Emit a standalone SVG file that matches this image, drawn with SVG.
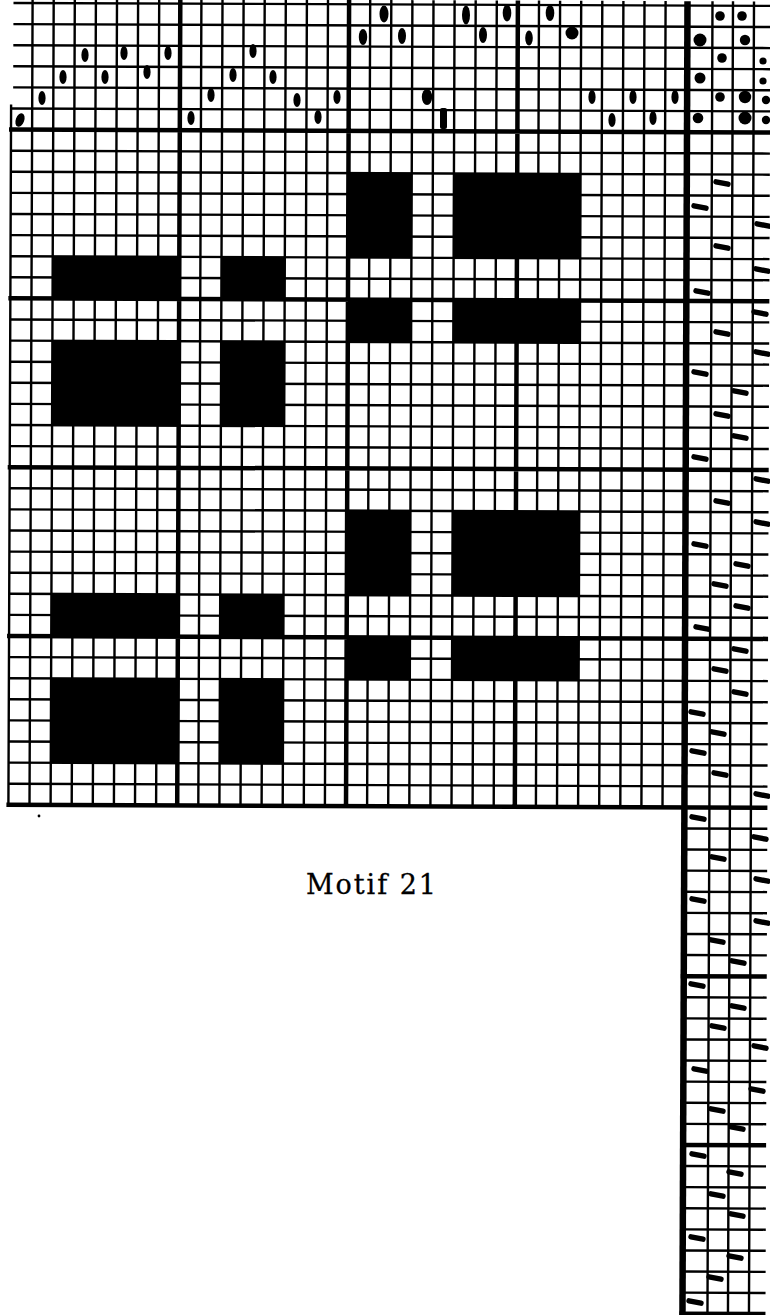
<svg xmlns="http://www.w3.org/2000/svg" xmlns:xlink="http://www.w3.org/1999/xlink" width="770" height="1315" viewBox="0 0 770 1315">
<style>
.thin{fill:none;stroke:#000;stroke-width:2.4}
.thick{fill:none;stroke:#000;stroke-width:4.5}
.border{fill:none;stroke:#000;stroke-width:6.5}
.blk{fill:#000}
.tm{fill:#000}
.cap{font-family:"DejaVu Serif","Liberation Serif",serif;font-size:27px;fill:#000;stroke:#000;stroke-width:0.3}
</style>
<defs>
<path id="td" d="M-6,-1.2 L6,1.2" stroke="#000" stroke-width="5.4" stroke-linecap="round" fill="none"/>
<ellipse id="th" cx="0" cy="0" rx="3.6" ry="7" fill="#000"/>
</defs>
<rect width="770" height="1315" fill="#fff"/>
<g id="draft" transform="rotate(0.22 380 131)">
<g id="blocks" class="blk">
<rect x="53.2" y="257.6" width="126.6" height="42.2"/>
<rect x="222" y="257.6" width="63.3" height="42.2"/>
<rect x="53.2" y="342" width="126.6" height="84.4"/>
<rect x="222" y="342" width="63.3" height="84.4"/>
<rect x="348.6" y="173.2" width="63.3" height="84.4"/>
<rect x="454.1" y="173.2" width="126.6" height="84.4"/>
<rect x="348.6" y="299.8" width="63.3" height="42.2"/>
<rect x="454.1" y="299.8" width="126.6" height="42.2"/>
<rect x="348.6" y="510.8" width="63.3" height="84.4"/>
<rect x="454.1" y="510.8" width="126.6" height="84.4"/>
<rect x="348.6" y="637.4" width="63.3" height="42.2"/>
<rect x="454.1" y="637.4" width="126.6" height="42.2"/>
<rect x="53.2" y="595.2" width="126.6" height="42.2"/>
<rect x="222" y="595.2" width="63.3" height="42.2"/>
<rect x="53.2" y="679.6" width="126.6" height="84.4"/>
<rect x="222" y="679.6" width="63.3" height="84.4"/>
</g>
<g id="grid">
<path class="thin" d="M13 4.4H770M13 25.5H770M13 46.6H770M13 67.7H770M13 88.8H770M11 109.9H770
M11 152.1H770M11 173.2H770M11 194.3H770M11 215.4H770M11 236.5H770M11 257.6H770M11 278.7H770
M11 320.9H770M11 342H770M11 363.1H770M11 384.2H770M11 405.3H770M11 426.4H770M11 447.5H770
M11 489.7H770M11 510.8H770M11 531.9H770M11 553H770M11 574.1H770M11 595.2H770M11 616.3H770
M11 658.5H770M11 679.6H770M11 700.7H770M11 721.8H770M11 742.9H770M11 764H770M11 785.1H770
M687 827.3H770M687 848.4H770M687 869.5H770M687 890.6H770M687 911.7H770M687 932.8H770M687 953.9H770
M687 996.1H770M687 1017.2H770M687 1038.3H770M687 1059.4H770M687 1080.5H770M687 1101.6H770M687 1122.7H770
M687 1164.9H770M687 1186H770M687 1207.1H770M687 1228.2H770M687 1249.3H770M687 1270.4H770M687 1291.5H770"/>
<path class="thin" d="M11 106V806.2M32.1 0V806.2M53.2 0V806.2M74.3 0V806.2M95.4 0V806.2M116.5 0V806.2M137.6 0V806.2M158.7 0V806.2
M200.9 0V806.2M222 0V806.2M243.1 0V806.2M264.2 0V806.2M285.3 0V806.2M306.4 0V806.2M327.5 0V806.2
M369.7 0V806.2M390.8 0V806.2M411.9 0V806.2M433 0V806.2M454.1 0V806.2M475.2 0V806.2M496.3 0V806.2
M538.5 0V806.2M559.6 0V806.2M580.7 0V806.2M601.8 0V806.2M622.9 0V806.2M644 0V806.2M665.1 0V806.2
M712 0V1312.6M732.5 0V1312.6M753.5 0V1312.6"/>
<path class="thick" d="M179.8 0V806.2M348.6 0V806.2M517.4 0V806.2
M9 131H770M9 299.8H770M9 468.6H770M9 637.4H770M9 806.2H770
M684 975H770M684 1143.8H770M684 1312.6H770"/>
<path class="border" d="M687 0V1315"/>
</g>
</g>
<g id="threading">
<ellipse cx="20" cy="120" rx="4.2" ry="7" transform="rotate(20 20 120)"/>
<use xlink:href="#th" x="42" y="98"/>
<use xlink:href="#th" x="63" y="77"/>
<use xlink:href="#th" x="85" y="55"/>
<use xlink:href="#th" x="105" y="77"/>
<use xlink:href="#th" x="124" y="53"/>
<use xlink:href="#th" x="147" y="72"/>
<use xlink:href="#th" x="168" y="53"/>
<use xlink:href="#th" x="191" y="118"/>
<use xlink:href="#th" x="211" y="95"/>
<use xlink:href="#th" x="233" y="75"/>
<use xlink:href="#th" x="253" y="51"/>
<use xlink:href="#th" x="273" y="77"/>
<use xlink:href="#th" x="297" y="100"/>
<use xlink:href="#th" x="318" y="117"/>
<use xlink:href="#th" x="337" y="97"/>
<ellipse cx="363" cy="37" rx="4.2" ry="8"/>
<ellipse cx="384" cy="14" rx="4.5" ry="8.5"/>
<ellipse cx="402" cy="36" rx="4" ry="8"/>
<ellipse cx="427" cy="97" rx="5.2" ry="8"/>
<rect x="440" y="108" width="7" height="21" rx="2"/>
<ellipse cx="466" cy="15" rx="4" ry="9.5"/>
<ellipse cx="483" cy="35" rx="4" ry="8"/>
<ellipse cx="507" cy="13" rx="4.3" ry="8.5"/>
<ellipse cx="529" cy="38" rx="3.8" ry="7.5"/>
<ellipse cx="550" cy="13" rx="4.3" ry="8"/>
<circle cx="572" cy="33" r="6.5"/>
<use xlink:href="#th" x="592" y="97"/>
<use xlink:href="#th" x="612" y="120"/>
<use xlink:href="#th" x="633" y="97"/>
<use xlink:href="#th" x="653" y="118"/>
<use xlink:href="#th" x="675" y="97"/>
</g>
<g id="tieup" class="tm">
<circle cx="720" cy="16" r="4.8"/>
<circle cx="742" cy="16" r="4.8"/>
<circle cx="700" cy="40" r="6.5"/>
<circle cx="745" cy="40" r="5.2"/>
<circle cx="722" cy="58" r="4.8"/>
<circle cx="763" cy="61" r="3.6"/>
<circle cx="700" cy="78" r="5.5"/>
<circle cx="763" cy="81" r="3.6"/>
<circle cx="720" cy="97" r="4.8"/>
<circle cx="745" cy="97" r="6.2"/>
<circle cx="766" cy="100" r="4.2"/>
<circle cx="698" cy="118" r="5.3"/>
<circle cx="745" cy="118" r="6.5"/>
<circle cx="766" cy="120" r="4.2"/>
</g>
<g id="treadling">
<use xlink:href="#td" x="722" y="183"/>
<use xlink:href="#td" x="700" y="207"/>
<use xlink:href="#td" x="763" y="225"/>
<use xlink:href="#td" x="722" y="247"/>
<use xlink:href="#td" x="762" y="270"/>
<use xlink:href="#td" x="702" y="292"/>
<use xlink:href="#td" x="760" y="313"/>
<use xlink:href="#td" x="722" y="333"/>
<use xlink:href="#td" x="762" y="353"/>
<use xlink:href="#td" x="700" y="373"/>
<use xlink:href="#td" x="740" y="392"/>
<use xlink:href="#td" x="722" y="415"/>
<use xlink:href="#td" x="740" y="437"/>
<use xlink:href="#td" x="700" y="458"/>
<use xlink:href="#td" x="762" y="480"/>
<use xlink:href="#td" x="722" y="502"/>
<use xlink:href="#td" x="762" y="523"/>
<use xlink:href="#td" x="700" y="545"/>
<use xlink:href="#td" x="742" y="565"/>
<use xlink:href="#td" x="720" y="585"/>
<use xlink:href="#td" x="742" y="607"/>
<use xlink:href="#td" x="702" y="628"/>
<use xlink:href="#td" x="740" y="650"/>
<use xlink:href="#td" x="720" y="670"/>
<use xlink:href="#td" x="740" y="693"/>
<use xlink:href="#td" x="697" y="713"/>
<use xlink:href="#td" x="718" y="733"/>
<use xlink:href="#td" x="698" y="752"/>
<use xlink:href="#td" x="720" y="774"/>
<use xlink:href="#td" x="762" y="795"/>
<use xlink:href="#td" x="698" y="818"/>
<use xlink:href="#td" x="760" y="838"/>
<use xlink:href="#td" x="718" y="858"/>
<use xlink:href="#td" x="762" y="880"/>
<use xlink:href="#td" x="698" y="900"/>
<use xlink:href="#td" x="762" y="922"/>
<use xlink:href="#td" x="717" y="941"/>
<use xlink:href="#td" x="738" y="962"/>
<use xlink:href="#td" x="697" y="985"/>
<use xlink:href="#td" x="738" y="1007"/>
<use xlink:href="#td" x="718" y="1027"/>
<use xlink:href="#td" x="760" y="1047"/>
<use xlink:href="#td" x="700" y="1070"/>
<use xlink:href="#td" x="757" y="1090"/>
<use xlink:href="#td" x="717" y="1110"/>
<use xlink:href="#td" x="737" y="1128"/>
<use xlink:href="#td" x="698" y="1155"/>
<use xlink:href="#td" x="735" y="1173"/>
<use xlink:href="#td" x="717" y="1195"/>
<use xlink:href="#td" x="737" y="1215"/>
<use xlink:href="#td" x="697" y="1238"/>
<use xlink:href="#td" x="735" y="1257"/>
<use xlink:href="#td" x="715" y="1278"/>
<use xlink:href="#td" x="695" y="1302"/>
</g>
<circle cx="39" cy="816" r="1.4" fill="#000"/>
<g id="caption">
<text class="cap" x="371" y="894" text-anchor="middle" textLength="130" lengthAdjust="spacing">Motif 21</text>
</g>
</svg>
